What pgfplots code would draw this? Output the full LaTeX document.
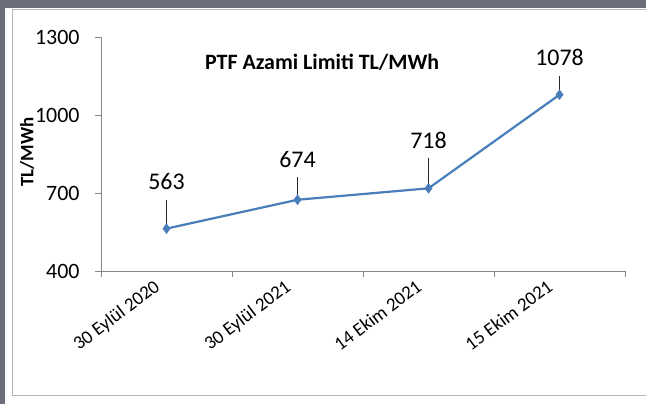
\documentclass[border=0pt]{standalone}
\usepackage{fontspec}
\setmainfont{Carlito}
\usepackage{pgfplots}
\pgfplotsset{compat=1.18}
\usepackage{pgfplotstable}

\definecolor{xlblue}{HTML}{4A7EBB}
\definecolor{xlaxis}{HTML}{868686}
\definecolor{frame}{HTML}{6B6E79}
\definecolor{border}{HTML}{B4B4B4}

% x = category centre, lead = leader line length (data units), lab = label offset (bp)
\pgfplotstableread{
x   y    lead lab
0.5 563  111  47
1.5 674  88   40
2.5 718  115  48
3.5 1078 73   37
}\ptfdata

\begin{document}
\begin{tikzpicture}
\useasboundingbox (0,0) rectangle (646bp,404bp);
\fill[frame] (0,0) rectangle (646bp,404bp);
\fill[white] (5bp,0) rectangle (646bp,396bp);
\draw[border, line width=1bp] (12bp,8bp) rectangle (660bp,394bp);
\begin{axis}[
    at={(101bp,133bp)}, anchor=south west,
    width=524bp, height=234bp, scale only axis,
    xmin=0, xmax=4, ymin=400, ymax=1300,
    axis x line*=bottom, axis y line*=left,
    axis line style={xlaxis, line width=0.8bp},
    tick align=outside,
    major tick length=6bp,
    tick style={xlaxis, line width=0.8bp},
    xtick={0,1,2,3,4}, xticklabels={},
    extra x ticks={0.5,1.5,2.5,3.5},
    extra x tick labels={30 Eylül 2020, 30 Eylül 2021, 14 Ekim 2021, 15 Ekim 2021},
    extra x tick style={major tick length=0pt},
    xticklabel style={font=\fontsize{19}{23}\selectfont, xshift=-13bp, yshift=-3bp,
                      rotate=37, anchor=north east},
    ytick={400,700,1000,1300},
    yticklabel style={font=\fontsize{22}{26}\selectfont, xshift=-12bp},
    /pgf/number format/1000 sep={},
    /pgf/number format/assume math mode=true,
    title={PTF Azami Limiti TL/MWh},
    title style={at={(axis description cs:0.422,0.868)}, anchor=center,
                 font=\bfseries\fontsize{22}{26}\selectfont},
    ylabel={TL/MWh},
    ylabel style={at={(axis description cs:-0.141,0.509)}, anchor=center,
                  font=\bfseries\fontsize{19}{23}\selectfont},
    clip=false,
]
\addplot[xlblue, line width=2.2bp, mark=diamond*, mark size=3.5bp,
    mark options={xlblue},
    nodes near coords, point meta=y,
    visualization depends on={\thisrow{lab} \as \labdy},
    every node near coord/.append style={anchor=center, yshift=\labdy bp,
        text=black, font=\fontsize{24}{28}\selectfont},
    error bars/.cd, y dir=plus, y explicit, error mark=none,
    error bar style={black!85, line width=0.8bp}]
    table[x=x, y=y, y error=lead] {\ptfdata};
\end{axis}
\end{tikzpicture}
\end{document}
